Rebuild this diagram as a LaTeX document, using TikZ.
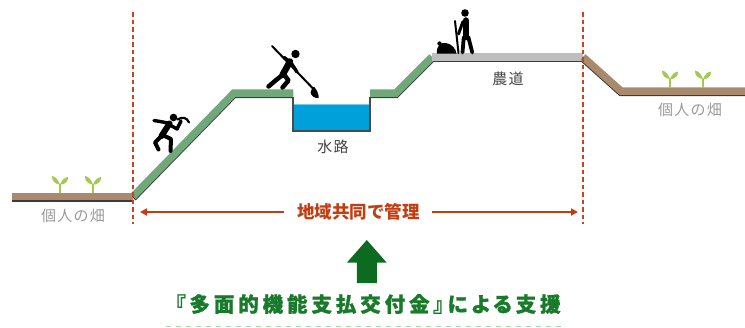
\documentclass[tikz,border=0pt]{standalone}
\usepackage{fontspec}
\newfontfamily\jp{Noto Sans CJK JP}
\newfontfamily\jpwide[LetterSpace=8]{Noto Sans CJK JP}
\newfontfamily\jpbig[LetterSpace=19, RawFeature=+palt, BoldFeatures={FakeBold=1.2}]{Noto Sans CJK JP}
\usetikzlibrary{arrows.meta}

\definecolor{bankgreen}{HTML}{70A87A}
\definecolor{soilbrown}{HTML}{AA8A6C}
\definecolor{roadgrey}{HTML}{BEBEBE}
\definecolor{edgegrey}{HTML}{3C3C3C}
\definecolor{waterblue}{HTML}{00A0DA}
\definecolor{wallgrey}{HTML}{4A4A4A}
\definecolor{boundred}{HTML}{C9441C}
\definecolor{mgmtred}{HTML}{C23E12}
\definecolor{supportgreen}{HTML}{187A2A}
\definecolor{bigarrow}{HTML}{0D6B20}
\definecolor{sproutgreen}{HTML}{A3CA50}
\definecolor{fieldtext}{HTML}{9A9A9A}
\definecolor{labeltext}{HTML}{444444}
\definecolor{underline}{HTML}{A8D8AC}

\tikzset{
  band/.style={line width=7.5pt, line join=miter, line cap=butt},
  bandedge/.style={band, draw=edgegrey, yshift=-1.3pt},
  boundary/.style={draw=boundred, line width=2pt, dash pattern=on 4.5pt off 3pt},
  mgmtline/.style={draw=mgmtred, line width=1.8pt, -{Triangle[length=7pt,width=7pt]}},
  fieldlabel/.style={font=\jpwide\fontsize{15}{15}\selectfont, text=fieldtext, inner sep=0pt},
  placelabel/.style={font=\jpwide\fontsize{15}{15}\selectfont, text=labeltext, inner sep=0pt},
  mgmttext/.style={font=\jp\bfseries\fontsize{17.5}{18}\selectfont, text=mgmtred, inner sep=0pt},
  supporttext/.style={font=\jpbig\bfseries\fontsize{20.5}{21}\selectfont, text=supportgreen, inner sep=0pt},
  limb/.style={draw=black, line cap=round, line join=round, line width=4pt},
  sprout/.pic={
    \fill[sproutgreen] (-0.9,0) -- (-0.9,-9) -- (0.9,-9) -- (0.9,0) -- cycle;
    \fill[sproutgreen] (0,-8.5) .. controls (-2,-14) and (-5,-16.5) .. (-8,-17)
      .. controls (-8.5,-12) and (-4,-8.5) .. (0,-8.5) -- cycle;
    \fill[sproutgreen] (0,-8.5) .. controls (2,-13.5) and (5,-15.5) .. (8,-16)
      .. controls (8.5,-11) and (4,-8) .. (0,-8.5) -- cycle;
  }
}

\begin{document}
\begin{tikzpicture}[x=1pt,y=-1pt]
\useasboundingbox (0,0) rectangle (745,327);

% ---- ground profile: shadow edges first, then coloured bands
\draw[bandedge] (12,196.5) -- (133,196.5);
\draw[bandedge] (133,196.5) -- (234,93) -- (293,93);
\draw[bandedge] (370,93) -- (396,93) -- (432,57);
\draw[bandedge] (432,57) -- (583,57);
\draw[bandedge] (583,57) -- (621,91) -- (745,91);

\draw[band, draw=soilbrown] (12,196.5) -- (133,196.5);
\draw[band, draw=bankgreen] (133,196.5) -- (234,93) -- (293,93);
\draw[band, draw=bankgreen] (370,93) -- (396,93) -- (432,57);
\draw[band, draw=roadgrey] (432,57) -- (583,57);
\draw[band, draw=soilbrown] (583,57) -- (621,91) -- (745,91);

% ---- water channel
\fill[waterblue] (293.8,104.5) rectangle (369.2,130.2);
\draw[draw=waterblue!55!white, line width=0.8pt] (293.8,104.8) -- (369.2,104.8);
\draw[draw=wallgrey, line width=1.6pt] (293,96.8) -- (293,131) -- (370,131) -- (370,96.8);

% ---- sprouts on the private fields
\pic at (60,193) {sprout};
\pic at (93,193) {sprout};
\pic at (670,87.5) {sprout};
\pic at (703,87.5) {sprout};

% ---- worker climbing the bank
\fill (173.5,117.5) circle (3.8);
\draw[limb, line width=6pt] (169.5,123.5) -- (161.5,136);
\draw[limb, line width=3.4pt] (168,123) -- (160,121.5) -- (154,120.5);
\draw[limb, line width=3.4pt] (170,125) -- (177,129) -- (181,121);
\draw[draw=black, line width=2.2pt, line cap=round] (177.5,119.5) .. controls (182.5,116.5) and (187,117.5) .. (189,122.5);
\draw[limb] (161.5,136) -- (155,142.5) -- (158.5,149.5);
\draw[limb] (162.5,135) -- (171,139) -- (170.5,151);

% ---- worker clearing the channel with a pole
\fill (295.5,54) circle (4.2);
\draw[draw=black, line width=2pt, line cap=round] (272,46) -- (313,88.5);
\fill (312.3,87.4) -- (310.6,92.5) .. controls (311,96) and (315,98.5) .. (318.5,98)
  .. controls (319,95) and (317.5,91) .. (314.4,87) -- cycle;
\draw[limb, line width=6.5pt] (290,61.5) -- (282.5,75);
\draw[limb, line width=3.4pt] (290.5,62) -- (297,72);
\draw[limb, line width=3.4pt] (289,61) -- (284,57.5);
\draw[limb, line width=4.5pt] (282.5,75) -- (275.5,80.5) -- (268.5,86.5);
\draw[limb, line width=4.5pt] (284.5,75) -- (288.5,80.5) -- (282.5,87.5);

% ---- worker standing on the farm road
\fill (465,13) circle (3.8);
\draw[draw=black, line width=2pt, line cap=round] (455,21) -- (458.5,53);
\draw[limb, line width=6.5pt] (466,20.5) -- (466,37);
\draw[limb, line width=3pt] (463,21.5) -- (458.5,34);
\draw[limb, line width=3.8pt] (463.8,37) -- (462.5,52.5);
\draw[limb, line width=3.8pt] (468.3,37) -- (472.3,52.5);
\fill (437,53.5) .. controls (436,46) and (441,42) .. (446,43)
  .. controls (452,44) and (456,49) .. (456.5,53.5) -- cycle;
\fill (439.5,43.5) circle (2.2);

% ---- boundaries of the jointly managed area
\coordinate (bLtop) at (133,12);
\coordinate (bLbot) at (133,224);
\coordinate (bRtop) at (583,12);
\coordinate (bRbot) at (583,224);
\draw[boundary] (bLtop) -- (bLbot);
\draw[boundary] (bRtop) -- (bRbot);

% ---- labels
\node[fieldlabel] (fieldL) at (73,216) {個人の畑};
\node[fieldlabel] (fieldR) at (690,110) {個人の畑};
\node[placelabel] (canal) at (333,146.5) {水路};
\node[placelabel] (road) at (508,79) {農道};

% ---- joint management span
\node[mgmttext] (mgmt) at (358.5,212) {地域共同で管理};
\coordinate (spanL) at (140,212);
\coordinate (spanR) at (578,212);
\draw[mgmtline] ([xshift=-13pt]mgmt.west) -- (spanL);
\draw[mgmtline] ([xshift=12pt]mgmt.east) -- (spanR);

% ---- support
\node[supporttext] (support) at (368,304) {『多面的機能支払交付金』による支援};
\fill[bigarrow] (356.8,283) -- (356.8,262.5) -- (347,262.5) -- (366.8,240)
  -- (386.6,262.5) -- (376.8,262.5) -- (376.8,283) -- cycle;
\draw[draw=underline, line width=1pt, dash pattern=on 5pt off 5pt] (166,326.3) -- (566,326.3);

\end{tikzpicture}
\end{document}
